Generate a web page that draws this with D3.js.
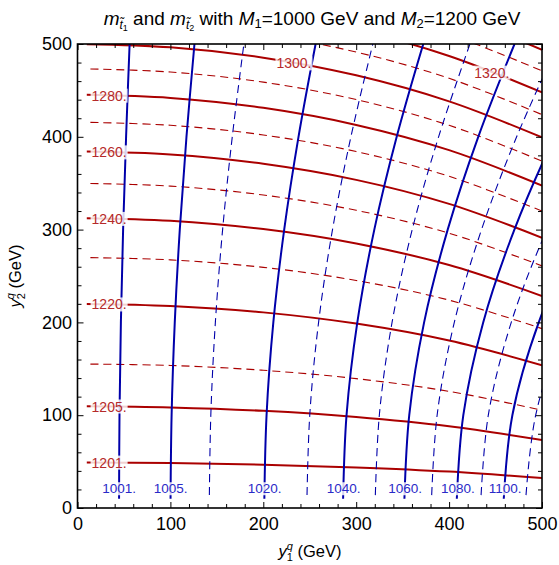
<!DOCTYPE html>
<html>
<head>
<meta charset="utf-8">
<script src="https://cdn.jsdelivr.net/npm/d3@7"></script>
<style>
  body { margin: 0; background: #fff; }
  text { font-family: "Liberation Sans", Arial, Helvetica, sans-serif; }
</style>
</head>
<body>
<svg id="chart" width="559" height="565"></svg>
<script>
// data
// m_t1 contours: y1 values (GeV) at each y2 grid value
const y2Grid = [0, 100, 200, 300, 400, 500];
const m1Levels = [1001, 1005, 1010, 1020, 1030, 1040, 1050, 1060, 1070, 1080, 1090, 1100, 1110];
const m1Dashed = [1010, 1030, 1050, 1070, 1090, 1110];
const m1Y1 = [
    [44.7, 45.2, 46.7, 49.1, 52.3, 56.1],
    [100.1, 101.3, 104.7, 110.1, 117.3, 125.9],
    [141.8, 143.5, 148.4, 156.2, 166.6, 179.1],
    [201.0, 203.5, 210.8, 222.5, 237.9, 256.3],
    [246.8, 250.0, 259.5, 274.5, 294.3, 317.9],
    [285.7, 289.6, 301.2, 319.5, 343.6, 372.2],
    [320.2, 324.9, 338.6, 360.3, 388.7, 422.4],
    [351.6, 357.1, 373.1, 398.5, 431.4, 470.4],
    [380.7, 387.1, 405.6, 434.9, 472.7, 517.4],
    [407.9, 415.3, 436.7, 470.3, 513.5, 564.3],
    [433.7, 442.2, 466.9, 505.3, 554.6, 612.2],
    [458.3, 468.1, 496.5, 540.5, 596.7, 662.0],
    [481.8, 493.2, 526.1, 576.7, 640.9, 715.0]
];
const m1Labelled = [1001, 1005, 1020, 1040, 1060, 1080, 1100];
const m1LabelY2 = 21;

// m_t2 contours: y2 values (GeV) at each y1 grid value
const y1Grid = [0, 100, 200, 300, 400, 500];
const m2Levels = [1201, 1205, 1210, 1220, 1230, 1240, 1250, 1260, 1270, 1280, 1290, 1300, 1310, 1320, 1330, 1340];
const m2Dashed = [1210, 1230, 1250, 1270, 1290, 1310, 1330];
const m2Y2 = [
    [49.0, 48.4, 46.7, 43.7, 39.2, 32.3],
    [109.7, 108.4, 104.7, 98.1, 88.1, 73.3],
    [155.2, 153.6, 148.4, 139.4, 125.7, 105.4],
    [220.0, 217.7, 210.8, 198.7, 180.4, 153.7],
    [270.0, 267.4, 259.3, 245.2, 224.0, 193.3],
    [312.4, 309.5, 300.6, 285.1, 261.8, 228.5],
    [350.0, 346.9, 337.3, 320.8, 296.1, 260.9],
    [384.2, 380.9, 370.9, 353.6, 327.7, 291.2],
    [415.8, 412.4, 402.0, 384.1, 357.4, 320.0],
    [445.4, 441.9, 431.2, 412.8, 385.6, 347.4],
    [473.4, 469.8, 458.9, 440.1, 412.4, 373.8],
    [500.0, 496.4, 485.3, 466.3, 438.2, 399.3],
    [525.5, 521.8, 510.6, 491.3, 463.0, 423.9],
    [549.9, 546.2, 534.9, 515.5, 487.1, 447.8],
    [573.5, 569.8, 558.4, 538.9, 510.4, 471.1],
    [596.3, 592.6, 581.1, 561.6, 533.0, 493.8]
];
const m2Labelled = [1201, 1205, 1220, 1240, 1260, 1280, 1300, 1320];
const m2LabelY1 = [34, 34, 34, 34, 34, 34, 233, 446];

const axisMajor = [0, 100, 200, 300, 400, 500];
const axisMinor = d3.range(0, 501, 20).filter(v => v % 100 !== 0);

// styles
const red = "#aa0000";
const blue = "#0000aa";
const redText = "#b52a2a";
const blueText = "#2a2ac8";

const svg = d3.select("#chart");
const x = d3.scaleLinear().domain([0, 500]).range([77.5, 542]);
const y = d3.scaleLinear().domain([0, 500]).range([508, 44]);

// clip to the computed region (starts at 10 GeV)
svg.append("clipPath").attr("id", "plotClip")
    .append("rect")
    .attr("x", x(10)).attr("y", y(500))
    .attr("width", x(500) - x(10)).attr("height", y(10) - y(500));

const lines = svg.append("g").attr("clip-path", "url(#plotClip)");
const line = d3.line().x(d => x(d[0])).y(d => y(d[1])).curve(d3.curveCatmullRom);

// m_t2 (red)
m2Levels.forEach((lev, i) => {
    const pts = y1Grid.map((v, j) => [v, m2Y2[i][j]]);
    const dashed = m2Dashed.includes(lev);
    lines.append("path")
        .attr("d", line(pts))
        .attr("fill", "none")
        .attr("stroke", red)
        .attr("stroke-width", dashed ? 1.1 : 2)
        .attr("stroke-dasharray", dashed ? "8,5" : null);
});
// m_t1 (blue)
m1Levels.forEach((lev, i) => {
    const pts = y2Grid.map((v, j) => [m1Y1[i][j], v]);
    const dashed = m1Dashed.includes(lev);
    lines.append("path")
        .attr("d", line(pts))
        .attr("fill", "none")
        .attr("stroke", blue)
        .attr("stroke-width", dashed ? 1.1 : 2)
        .attr("stroke-dasharray", dashed ? "8,5" : null);
});

// contour labels
const labels = svg.append("g");
const addLabel = (px, py, txt, color, size) => {
    const g = labels.append("g");
    const bg = g.append("rect").attr("fill", "white").attr("opacity", 0.82);
    const t = g.append("text")
        .attr("x", px).attr("y", py)
        .attr("text-anchor", "middle")
        .attr("dy", "0.35em")
        .attr("fill", color)
        .style("font-size", size + "px")
        .text(txt);
    const b = t.node().getBBox();
    bg.attr("x", b.x - 1).attr("y", b.y + 1).attr("width", b.width + 2).attr("height", b.height - 2);
};
m1Labelled.forEach(lev => {
    const row = m1Y1[m1Levels.indexOf(lev)];
    const along = d3.scaleLinear().domain(y2Grid).range(row);
    addLabel(x(along(m1LabelY2)), y(m1LabelY2), `${lev}.`, blueText, 13.5);
});
m2Labelled.forEach((lev, k) => {
    const row = m2Y2[m2Levels.indexOf(lev)];
    const along = d3.scaleLinear().domain(y1Grid).range(row);
    const t = m2LabelY1[k];
    addLabel(x(t), y(along(t)), `${lev}.`, redText, 14);
});

// axes with inward ticks on all four sides
const styleAxis = g => {
    g.select(".domain").remove();
    g.selectAll(".tick line").attr("stroke", "#000").attr("stroke-width", 1);
    g.attr("font-size", 18).attr("font-family", "Liberation Sans, Arial, sans-serif");
    g.selectAll("text").attr("fill", "#000");
};
svg.append("g").attr("transform", `translate(0,${y(0)})`)
    .call(d3.axisBottom(x).tickValues(axisMajor).tickSize(-6).tickPadding(9).tickFormat(d3.format("d"))).call(styleAxis);
svg.append("g").attr("transform", `translate(0,${y(0)})`)
    .call(d3.axisBottom(x).tickValues(axisMinor).tickSize(-4).tickFormat("")).call(styleAxis);
svg.append("g").attr("transform", `translate(${x(0)},0)`)
    .call(d3.axisLeft(y).tickValues(axisMajor).tickSize(-6).tickPadding(5.5).tickFormat(d3.format("d"))).call(styleAxis);
svg.append("g").attr("transform", `translate(${x(0)},0)`)
    .call(d3.axisLeft(y).tickValues(axisMinor).tickSize(-4).tickFormat("")).call(styleAxis);
svg.append("g").attr("transform", `translate(0,${y(500)})`)
    .call(d3.axisTop(x).tickValues(axisMajor).tickSize(-6).tickFormat("")).call(styleAxis);
svg.append("g").attr("transform", `translate(0,${y(500)})`)
    .call(d3.axisTop(x).tickValues(axisMinor).tickSize(-4).tickFormat("")).call(styleAxis);
svg.append("g").attr("transform", `translate(${x(500)},0)`)
    .call(d3.axisRight(y).tickValues(axisMajor).tickSize(-6).tickFormat("")).call(styleAxis);
svg.append("g").attr("transform", `translate(${x(500)},0)`)
    .call(d3.axisRight(y).tickValues(axisMinor).tickSize(-4).tickFormat("")).call(styleAxis);

svg.append("rect")
    .attr("x", x(0)).attr("y", y(500))
    .attr("width", x(500) - x(0)).attr("height", y(0) - y(500))
    .attr("fill", "none").attr("stroke", "#000").attr("stroke-width", 1.6);

// rich text helper
const runs = (sel, parts) => {
    parts.forEach(p => {
        sel.append("tspan")
            .attr("dy", p.dy || 0)
            .attr("dx", p.dx || null)
            .style("font-style", p.it ? "italic" : "normal")
            .style("font-size", p.size ? p.size + "px" : null)
            .text(p.s);
    });
};

// title
const title = svg.append("text")
    .attr("x", 312).attr("y", 25)
    .attr("text-anchor", "middle")
    .style("font-size", "19px");
runs(title, [
    { s: "m", it: true },
    { s: "t\u0303", it: true, size: 12, dy: 4 },
    { s: "1", size: 9, dy: 2 },
    { s: " and ", dy: -6 },
    { s: "m", it: true },
    { s: "t\u0303", it: true, size: 12, dy: 4 },
    { s: "2", size: 9, dy: 2 },
    { s: " with ", dy: -6 },
    { s: "M", it: true },
    { s: "1", size: 13, dy: 3 },
    { s: "=1000 GeV and ", dy: -3 },
    { s: "M", it: true },
    { s: "2", size: 13, dy: 3 },
    { s: "=1200 GeV", dy: -3 }
]);

// axis titles
const xTitle = svg.append("text")
    .attr("x", 310).attr("y", 557)
    .attr("text-anchor", "middle")
    .style("font-size", "16.5px");
runs(xTitle, [
    { s: "y", it: true },
    { s: "1", size: 11, dy: 4 },
    { s: "q", it: true, size: 11, dy: -11, dx: -6 },
    { s: " (GeV)", dy: 7 }
]);
const yTitle = svg.append("text")
    .attr("transform", "translate(21,276) rotate(-90)")
    .attr("text-anchor", "middle")
    .style("font-size", "16.5px");
runs(yTitle, [
    { s: "y", it: true },
    { s: "2", size: 11, dy: 4 },
    { s: "q", it: true, size: 11, dy: -11, dx: -6 },
    { s: " (GeV)", dy: 7 }
]);
</script>
</body>
</html>
